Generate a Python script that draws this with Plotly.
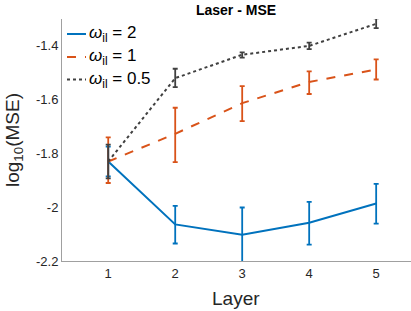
import plotly.graph_objects as go

layers = [1, 2, 3, 4, 5]

w2_mean = [-1.83, -2.064, -2.102, -2.058, -1.986]
w2_err_plus = [0.055, 0.069, 0.101, 0.078, 0.073]
w2_err_minus = [0.055, 0.071, 0.102, 0.081, 0.075]

w1_mean = [-1.83, -1.727, -1.613, -1.534, -1.488]
w1_err_plus = [0.09, 0.097, 0.063, 0.039, 0.038]
w1_err_minus = [0.08, 0.105, 0.067, 0.045, 0.037]

w05_mean = [-1.83, -1.52, -1.433, -1.40, -1.318]
w05_err_plus = [0.063, 0.035, 0.009, 0.012, 0.02]
w05_err_minus = [0.063, 0.033, 0.011, 0.012, 0.016]

series_names = ["<i>ω</i><sub>il</sub> = 2", "<i>ω</i><sub>il</sub> = 1", "<i>ω</i><sub>il</sub> = 0.5"]
colors = ["#0072BD", "#D95319", "#404040"]
dashes = ["solid", "dash", "dot"]

W, H = 411, 311
L, R, T, B = 62, 0, 19, 50
PW, PH = W - L - R, H - T - B

def px(x):
    return (x - L) / PW

def py(y):
    return 1 - (y - T) / PH

fig = go.Figure()
shapes = []
annotations = []
legend_y = [34, 57, 79.5]
for i, (mean, ep, em, name, col, dash) in enumerate([
    (w2_mean, w2_err_plus, w2_err_minus, series_names[0], colors[0], dashes[0]),
    (w1_mean, w1_err_plus, w1_err_minus, series_names[1], colors[1], dashes[1]),
    (w05_mean, w05_err_plus, w05_err_minus, series_names[2], colors[2], dashes[2]),
]):
    fig.add_trace(go.Scatter(
        x=layers, y=mean, name=name, mode="lines", showlegend=False,
        line=dict(color=col, width=2, dash=dash),
        error_y=dict(type="data", symmetric=False, array=ep, arrayminus=em,
                     color=col, thickness=1.8, width=2.5),
    ))
    shapes.append(dict(type="line", xref="paper", yref="paper",
                       x0=px(67), x1=px(86), y0=py(legend_y[i]), y1=py(legend_y[i]),
                       line=dict(color=col, width=2, dash=dash)))
    annotations.append(dict(text=name, xref="paper", yref="paper",
                            x=px(87), y=py(legend_y[i]), xanchor="left", yanchor="middle",
                            showarrow=False, font=dict(size=17, color="black")))

annotations += [
    dict(text="Layer", xref="paper", yref="paper", x=px(236),
         y=py(298), xanchor="center", yanchor="middle",
         showarrow=False, font=dict(size=19, color="#262626")),
    dict(text="log<sub>10</sub>(MSE)", xref="paper", yref="paper",
         x=px(14), y=py(140), xanchor="center", yanchor="middle",
         textangle=-90, showarrow=False, font=dict(size=19, color="#262626")),
]

fig.update_layout(
    width=W, height=H,
    margin=dict(l=L, r=R, t=T, b=B, autoexpand=False),
    paper_bgcolor="white", plot_bgcolor="white",
    font=dict(family="Liberation Sans, Arial, sans-serif", color="#262626"),
    title=dict(text="<b>Laser - MSE</b>", x=236 / W, xanchor="center",
               y=1 - 10 / H, yanchor="middle",
               font=dict(size=14, color="black")),
    showlegend=False,
    xaxis=dict(range=[0.31, 5.52], tickvals=layers, ticktext=[str(v) for v in layers],
               showgrid=False, zeroline=False, showline=True, linecolor="#a0a0a0",
               linewidth=1, ticks="", tickfont=dict(size=13), automargin=False),
    yaxis=dict(range=[-2.2, -1.3], tickvals=[-2.2, -2.0, -1.8, -1.6, -1.4],
               ticktext=["-2.2", "-2", "-1.8", "-1.6", "-1.4"],
               showgrid=False, zeroline=False, showline=True, linecolor="#a0a0a0",
               linewidth=1, ticks="", tickfont=dict(size=13), automargin=False),
    shapes=shapes,
    annotations=annotations,
)

fig.write_html("out.html", config={"displayModeBar": False},
               post_script="document.body.style.margin='0';document.body.style.overflow='hidden';")
